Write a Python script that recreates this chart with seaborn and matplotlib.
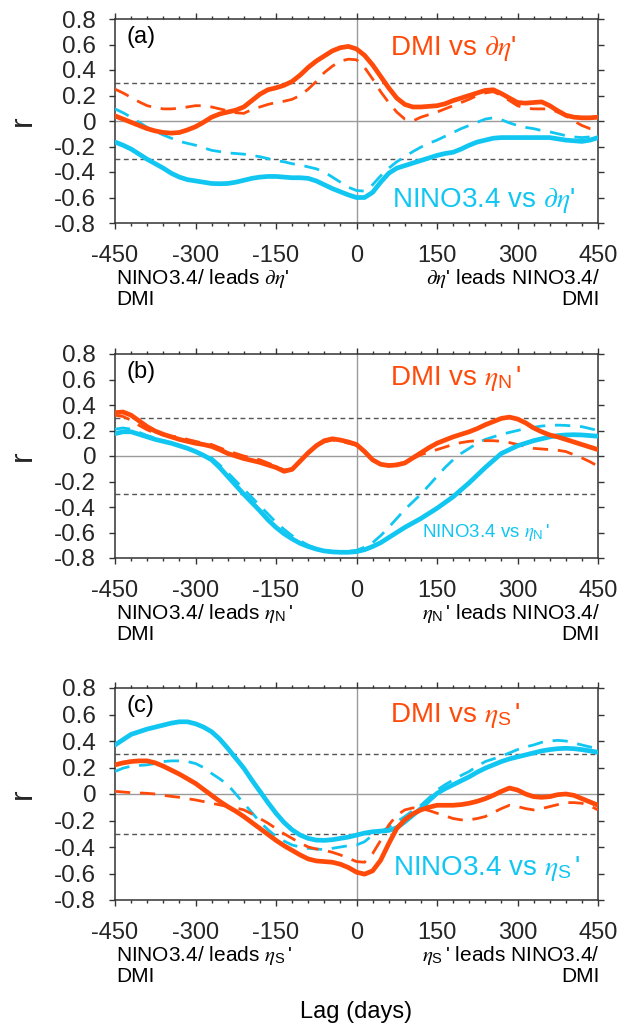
import numpy as np
import pandas as pd
import matplotlib
matplotlib.use("Agg")
import matplotlib.pyplot as plt
import seaborn as sns

# Lag axis (days), 15-day steps; positive lag: sea-level term leads the index
lags = list(range(-450, 451, 15))

# (a) d(eta)'
dmi_deta_solid = [0.04, 0.015, -0.01, -0.035, -0.06, -0.078, -0.09, -0.095, -0.09, -0.07,
                  -0.045, -0.01, 0.03, 0.055, 0.07, 0.085, 0.11, 0.16, 0.21, 0.245,
                  0.26, 0.28, 0.31, 0.36, 0.42, 0.47, 0.51, 0.55, 0.575, 0.585,
                  0.565, 0.515, 0.44, 0.35, 0.26, 0.18, 0.13, 0.11, 0.11, 0.115,
                  0.12, 0.135, 0.16, 0.18, 0.20, 0.22, 0.24, 0.245, 0.215, 0.18,
                  0.145, 0.14, 0.145, 0.15, 0.12, 0.08, 0.045, 0.03, 0.025, 0.025, 0.03]
dmi_deta_dash = [0.25, 0.22, 0.185, 0.15, 0.12, 0.105, 0.095, 0.095, 0.10, 0.11,
                 0.12, 0.12, 0.11, 0.095, 0.08, 0.065, 0.06, 0.09, 0.11, 0.13,
                 0.145, 0.155, 0.17, 0.20, 0.25, 0.31, 0.38, 0.43, 0.47, 0.485,
                 0.48, 0.42, 0.33, 0.23, 0.145, 0.07, 0.015, 0.0, 0.03, 0.05,
                 0.07, 0.095, 0.12, 0.145, 0.17, 0.20, 0.22, 0.23, 0.20, 0.16,
                 0.12, 0.10, 0.095, 0.095, 0.095, 0.07, 0.04, 0.0, -0.035, -0.06, -0.07]
nino_deta_solid = [-0.165, -0.19, -0.22, -0.26, -0.30, -0.335, -0.37, -0.41, -0.44, -0.46,
                   -0.47, -0.48, -0.49, -0.492, -0.49, -0.48, -0.465, -0.45, -0.44, -0.435,
                   -0.435, -0.44, -0.445, -0.445, -0.45, -0.47, -0.50, -0.53, -0.555, -0.58,
                   -0.60, -0.60, -0.56, -0.48, -0.41, -0.37, -0.35, -0.33, -0.31, -0.29,
                   -0.27, -0.255, -0.245, -0.22, -0.19, -0.165, -0.15, -0.135, -0.13, -0.13,
                   -0.13, -0.13, -0.13, -0.13, -0.13, -0.14, -0.15, -0.155, -0.16, -0.15, -0.13]
nino_deta_dash = [0.095, 0.065, 0.03, -0.01, -0.05, -0.08, -0.11, -0.135, -0.16, -0.175,
                  -0.19, -0.21, -0.23, -0.24, -0.25, -0.255, -0.26, -0.27, -0.28, -0.295,
                  -0.31, -0.32, -0.335, -0.345, -0.36, -0.375, -0.40, -0.44, -0.48, -0.52,
                  -0.545, -0.55, -0.50, -0.43, -0.37, -0.32, -0.28, -0.24, -0.205, -0.175,
                  -0.15, -0.12, -0.09, -0.06, -0.035, -0.01, 0.015, 0.025, 0.01, -0.015,
                  -0.035, -0.05, -0.06, -0.075, -0.085, -0.10, -0.115, -0.125, -0.13, -0.125, -0.115]

# (b) eta_N'
dmi_etaN_solid = [0.34, 0.345, 0.32, 0.275, 0.23, 0.195, 0.17, 0.15, 0.13, 0.115,
                  0.10, 0.09, 0.075, 0.05, 0.02, 0.0, -0.02, -0.035, -0.05, -0.07,
                  -0.09, -0.12, -0.105, -0.04, 0.025, 0.08, 0.12, 0.135, 0.125, 0.11,
                  0.09, 0.035, -0.03, -0.065, -0.075, -0.07, -0.055, -0.015, 0.025, 0.065,
                  0.10, 0.125, 0.15, 0.17, 0.19, 0.215, 0.245, 0.27, 0.295, 0.305,
                  0.29, 0.26, 0.22, 0.19, 0.165, 0.15, 0.13, 0.11, 0.09, 0.07, 0.05]
dmi_etaN_dash = [0.32, 0.31, 0.28, 0.24, 0.205, 0.18, 0.165, 0.155, 0.15, 0.13,
                 0.115, 0.10, 0.09, 0.065, 0.04, 0.02, 0.0, -0.015, -0.03, -0.055,
                 -0.08, -0.11, -0.10, -0.04, 0.02, 0.075, 0.11, 0.125, 0.115, 0.10,
                 0.085, 0.03, -0.03, -0.06, -0.07, -0.065, -0.05, -0.02, 0.01, 0.03,
                 0.05, 0.07, 0.09, 0.105, 0.115, 0.12, 0.12, 0.12, 0.115, 0.105,
                 0.09, 0.075, 0.06, 0.055, 0.05, 0.045, 0.035, 0.01, -0.015, -0.045, -0.08]
nino_etaN_solid = [0.175, 0.19, 0.19, 0.17, 0.15, 0.13, 0.115, 0.10, 0.08, 0.06,
                   0.035, 0.005, -0.03, -0.09, -0.16, -0.23, -0.30, -0.365, -0.43, -0.50,
                   -0.56, -0.61, -0.65, -0.685, -0.71, -0.73, -0.745, -0.752, -0.755, -0.755,
                   -0.75, -0.735, -0.71, -0.68, -0.64, -0.60, -0.56, -0.525, -0.49, -0.45,
                   -0.41, -0.365, -0.32, -0.265, -0.21, -0.15, -0.09, -0.035, 0.02, 0.05,
                   0.08, 0.10, 0.12, 0.135, 0.15, 0.16, 0.165, 0.167, 0.165, 0.16, 0.155]
nino_etaN_dash = [0.21, 0.22, 0.21, 0.185, 0.16, 0.14, 0.12, 0.10, 0.08, 0.06,
                  0.035, 0.01, -0.015, -0.07, -0.13, -0.195, -0.26, -0.325, -0.39, -0.455,
                  -0.52, -0.575, -0.625, -0.665, -0.70, -0.725, -0.74, -0.748, -0.75, -0.748,
                  -0.74, -0.715, -0.68, -0.625, -0.56, -0.49, -0.42, -0.36, -0.30, -0.23,
                  -0.16, -0.09, -0.03, 0.02, 0.06, 0.10, 0.13, 0.15, 0.17, 0.185,
                  0.20, 0.215, 0.225, 0.235, 0.24, 0.242, 0.24, 0.235, 0.23, 0.215, 0.20]

# (c) eta_S'
dmi_etaS_solid = [0.22, 0.235, 0.245, 0.25, 0.25, 0.235, 0.21, 0.18, 0.15, 0.115,
                  0.08, 0.035, -0.01, -0.055, -0.095, -0.13, -0.17, -0.215, -0.26, -0.305,
                  -0.35, -0.39, -0.425, -0.46, -0.49, -0.505, -0.51, -0.515, -0.53, -0.555,
                  -0.59, -0.605, -0.58, -0.50, -0.375, -0.26, -0.195, -0.15, -0.12, -0.10,
                  -0.085, -0.085, -0.085, -0.08, -0.07, -0.055, -0.035, -0.01, 0.02, 0.045,
                  0.03, 0.0, -0.02, -0.025, -0.02, -0.005, 0.0, -0.01, -0.035, -0.06, -0.085]
dmi_etaS_dash = [0.02, 0.015, 0.01, 0.008, 0.005, 0.0, -0.01, -0.018, -0.025, -0.035,
                 -0.045, -0.057, -0.07, -0.082, -0.095, -0.105, -0.12, -0.15, -0.185, -0.22,
                 -0.26, -0.30, -0.335, -0.37, -0.40, -0.415, -0.425, -0.44, -0.46, -0.485,
                 -0.51, -0.515, -0.45, -0.35, -0.235, -0.16, -0.12, -0.105, -0.11, -0.125,
                 -0.145, -0.165, -0.185, -0.195, -0.195, -0.185, -0.17, -0.14, -0.11, -0.085,
                 -0.095, -0.11, -0.12, -0.11, -0.095, -0.08, -0.065, -0.065, -0.07, -0.09, -0.12]
nino_etaS_solid = [0.37, 0.41, 0.45, 0.47, 0.49, 0.505, 0.52, 0.535, 0.545, 0.545,
                   0.53, 0.505, 0.47, 0.415, 0.345, 0.27, 0.195, 0.105, 0.02, -0.065,
                   -0.145, -0.215, -0.27, -0.31, -0.335, -0.348, -0.35, -0.345, -0.335, -0.325,
                   -0.31, -0.295, -0.285, -0.28, -0.275, -0.255, -0.21, -0.16, -0.11, -0.05,
                   0.005, 0.04, 0.07, 0.10, 0.13, 0.165, 0.195, 0.22, 0.245, 0.265,
                   0.28, 0.295, 0.31, 0.325, 0.335, 0.342, 0.345, 0.342, 0.335, 0.325, 0.315]
nino_etaS_dash = [0.17, 0.195, 0.21, 0.215, 0.22, 0.23, 0.245, 0.25, 0.25, 0.245,
                  0.23, 0.20, 0.155, 0.115, 0.07, 0.0, -0.07, -0.14, -0.21, -0.27,
                  -0.32, -0.355, -0.385, -0.40, -0.41, -0.415, -0.42, -0.41, -0.40, -0.39,
                  -0.385, -0.36, -0.31, -0.285, -0.25, -0.21, -0.17, -0.125, -0.085, -0.03,
                  0.03, 0.07, 0.105, 0.14, 0.17, 0.21, 0.245, 0.265, 0.285, 0.31,
                  0.335, 0.355, 0.37, 0.39, 0.40, 0.405, 0.40, 0.385, 0.37, 0.355, 0.345]

panel_tags = ["(a)", "(b)", "(c)"]
field_tex = [r"$\partial\eta$'", r"$\eta_{\mathsf{N}}\,$'", r"$\eta_{\mathsf{S}}\,$'"]
xtick_vals = [-450, -300, -150, 0, 150, 300, 450]
ytick_vals = [-0.8, -0.6, -0.4, -0.2, 0, 0.2, 0.4, 0.6, 0.8]
ytick_text = ["-0.8", "-0.6", "-0.4", "-0.2", "0", "0.2", "0.4", "0.6", "0.8"]

sns.set_theme(style="white")
plt.rcParams["font.family"] = ["Liberation Sans", "DejaVu Sans"]
plt.rcParams["mathtext.fontset"] = "custom"
plt.rcParams["mathtext.rm"] = "STIXGeneral"
plt.rcParams["mathtext.it"] = "STIXGeneral:italic"
plt.rcParams["mathtext.sf"] = "Liberation Sans"

ORANGE = "#FF4A0A"
CYAN = "#12C6F2"
GRID_GRAY = "#9a9a9a"
SIG_GRAY = "#555555"
TXT = "#262626"

W, H = 623, 1029
fig = plt.figure(figsize=(W / 100, H / 100), dpi=100)

# panel boxes in pixels: (top, bottom)
boxes = [(19, 223), (354, 558), (688, 900)]
LEFT, RIGHT = 115, 598

series = [
    (dmi_deta_solid, dmi_deta_dash, nino_deta_solid, nino_deta_dash),
    (dmi_etaN_solid, dmi_etaN_dash, nino_etaN_solid, nino_etaN_dash),
    (dmi_etaS_solid, dmi_etaS_dash, nino_etaS_solid, nino_etaS_dash),
]

dmi_base = [36, 31, 34]
nino_base = [188, 183, 187]
nino_x = [392, 422, 393]
nino_size = [20, 13.5, 20]


def fx(px):
    return px / W


def fy(py):
    return 1 - py / H


for i, (top, bot) in enumerate(boxes):
    ax = fig.add_axes([fx(LEFT), fy(bot), fx(RIGHT) - fx(LEFT), (bot - top) / H])
    d_s, d_d, n_s, n_d = series[i]

    ax.axhline(0, color=GRID_GRAY, lw=1.0, zorder=1)
    ax.axvline(0, color=GRID_GRAY, lw=1.0, zorder=1)
    for lvl in (0.3, -0.3):
        ax.axhline(lvl, color=SIG_GRAY, lw=1.0, dashes=(3.5, 2.5), zorder=1)

    df = pd.DataFrame({"lag": lags, "dmi_s": d_s, "dmi_d": d_d,
                       "nino_s": n_s, "nino_d": n_d})
    sns.lineplot(data=df, x="lag", y="nino_d", ax=ax, color=CYAN, lw=2.0, zorder=3)
    ax.lines[-1].set_dashes((5.5, 3.5))
    sns.lineplot(data=df, x="lag", y="dmi_d", ax=ax, color=ORANGE, lw=2.0, zorder=3)
    ax.lines[-1].set_dashes((5.5, 3.5))
    sns.lineplot(data=df, x="lag", y="nino_s", ax=ax, color=CYAN, lw=3.4, zorder=4)
    sns.lineplot(data=df, x="lag", y="dmi_s", ax=ax, color=ORANGE, lw=3.4, zorder=4)

    ax.set_xlim(-450, 450)
    ax.set_ylim(-0.8, 0.8)
    ax.set_xticks(xtick_vals)
    ax.set_xticklabels([str(v) for v in xtick_vals])
    ax.set_xticks(np.arange(-450, 451, 30), minor=True)
    ax.set_yticks(ytick_vals)
    ax.set_yticklabels(ytick_text)
    ax.tick_params(which="both", direction="out", top=True, right=True,
                   bottom=True, left=True, color="#333333", width=1.0)
    ax.tick_params(which="major", length=4.5, pad=9, labelsize=17.5, labelcolor=TXT)
    ax.tick_params(axis="x", which="major", pad=11, labelsize=17)
    ax.tick_params(which="minor", length=2.5)
    ax.tick_params(axis="x", labeltop=False)
    ax.tick_params(axis="y", labelright=False)
    for sp in ax.spines.values():
        sp.set_color("#333333")
        sp.set_linewidth(1.1)
    ax.set_xlabel("")
    ax.set_ylabel("r", fontsize=23, color=TXT, labelpad=12)

    ax.text(fx(127), fy(top + 18), panel_tags[i], transform=fig.transFigure,
            fontsize=17, color="black", va="center", ha="left")
    ax.text(fx(390), fy(top + dmi_base[i]), "DMI vs " + field_tex[i],
            transform=fig.transFigure, fontsize=20, color=ORANGE,
            va="baseline", ha="left")
    ax.text(fx(nino_x[i]), fy(top + nino_base[i]), "NINO3.4 vs " + field_tex[i],
            transform=fig.transFigure, fontsize=nino_size[i], color=CYAN,
            va="baseline", ha="left")

    # lead/lag explanation under the axis
    fig.text(fx(LEFT + 1), fy(bot + 44), "NINO3.4/ leads " + field_tex[i] + "\nDMI",
             fontsize=15, color="black", va="top", ha="left", linespacing=1.0)
    fig.text(fx(RIGHT + 2), fy(bot + 44), field_tex[i] + " leads NINO3.4/\nDMI",
             fontsize=15, color="black", va="top", ha="right",
             multialignment="right", linespacing=1.0)

fig.text(fx((LEFT + RIGHT) / 2), fy(1012), "Lag (days)", fontsize=17,
         color="black", ha="center", va="center")

fig.savefig("out.png", dpi=100)
